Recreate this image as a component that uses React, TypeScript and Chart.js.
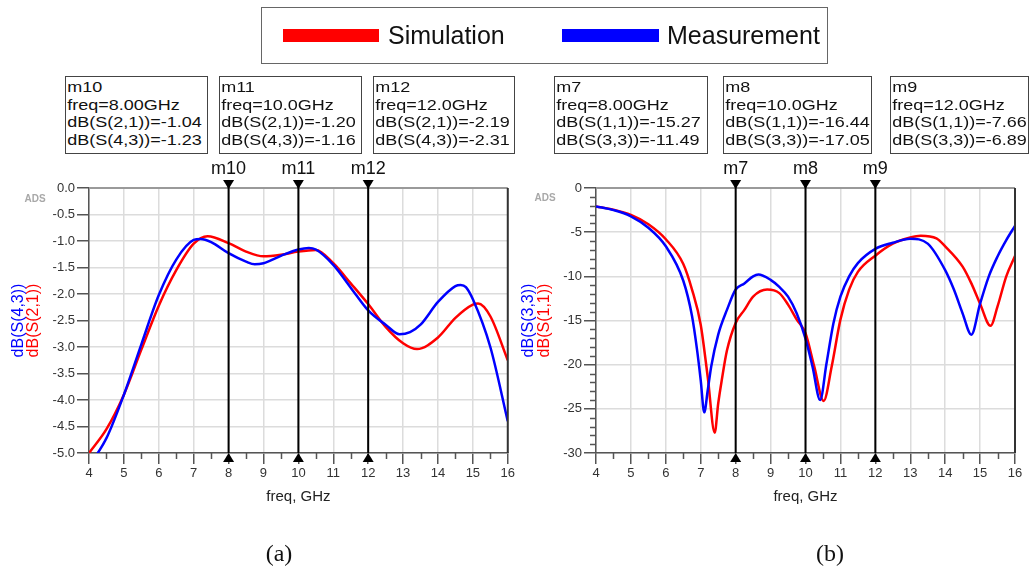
import React, { useEffect, useRef } from "react";
import { Chart, registerables } from "chart.js";

Chart.register(...registerables);

const FONT = '"Liberation Sans", Arial, Helvetica, sans-serif';
const SERIF = '"Liberation Serif", "Times New Roman", serif';

// ---------- (a) transmission ----------
const freqSimA = [4, 4.5, 5, 5.5, 6, 6.5, 7, 7.4, 8, 8.5, 9, 9.5, 10, 10.5, 11, 11.5, 12, 12.5, 13, 13.4, 14, 14.5, 15, 15.15, 15.5, 16];
const simS21 = [-5.0, -4.55, -3.9, -3.05, -2.22, -1.55, -1.05, -0.91, -1.04, -1.2, -1.29, -1.26, -1.2, -1.17, -1.42, -1.8, -2.19, -2.62, -2.93, -3.04, -2.82, -2.45, -2.2, -2.18, -2.42, -3.25];
const freqMeasA = [4, 4.5, 5, 5.5, 6, 6.5, 7, 7.2, 7.5, 8, 8.5, 8.75, 9, 9.5, 10, 10.3, 10.5, 11, 11.5, 12, 12.5, 12.9, 13.2, 13.5, 14, 14.5, 14.65, 14.8, 15, 15.5, 16];
const measS43 = [-5.25, -4.72, -3.9, -2.95, -2.02, -1.35, -0.98, -0.96, -1.02, -1.23, -1.39, -1.44, -1.42, -1.28, -1.16, -1.13, -1.16, -1.45, -1.88, -2.31, -2.58, -2.76, -2.72, -2.58, -2.15, -1.85, -1.83, -1.87, -2.1, -3.0, -4.4];

// ---------- (b) reflection ----------
const freqSimB = [4, 4.5, 5, 5.5, 6, 6.5, 6.75, 7, 7.2, 7.4, 7.5, 7.6, 7.75, 8, 8.25, 8.5, 8.9, 9.25, 9.5, 9.75, 10, 10.25, 10.52, 10.75, 11, 11.25, 11.5, 12, 12.5, 13, 13.3, 13.75, 14, 14.5, 14.75, 15, 15.3, 15.5, 15.75, 16];
const simS11 = [-2.08, -2.45, -3.05, -4.1, -5.8, -8.6, -11.5, -15.5, -21.4, -27.7, -24.4, -21.8, -18.4, -15.27, -13.8, -12.3, -11.5, -11.9, -13.2, -14.9, -16.44, -20.2, -24.1, -20.2, -14.9, -11.5, -9.5, -7.66, -6.3, -5.6, -5.4, -5.7, -6.6, -8.9, -10.8, -13.1, -15.6, -13.4, -10.0, -7.7];
const freqMeasB = [4, 4.5, 5, 5.5, 6, 6.5, 6.75, 6.9, 7.0, 7.1, 7.2, 7.3, 7.5, 7.75, 8, 8.25, 8.5, 8.65, 9, 9.25, 9.5, 9.75, 10, 10.2, 10.42, 10.6, 10.8, 11, 11.25, 11.5, 12, 12.5, 13, 13.5, 14, 14.25, 14.5, 14.75, 15, 15.25, 15.5, 15.75, 16];
const measS33 = [-2.08, -2.5, -3.2, -4.5, -6.6, -10.5, -14.5, -18.5, -21.8, -25.4, -22.9, -20.2, -16.6, -13.8, -11.49, -10.8, -10.0, -9.8, -10.4, -11.2, -12.3, -14.2, -17.05, -20.2, -24.0, -19.9, -15.3, -12.3, -10.0, -8.5, -6.89, -6.2, -5.75, -6.3, -9.3, -11.5, -14.2, -16.6, -13.1, -10.0, -7.75, -5.9, -4.28];

// ---------- axes / markers ----------
const xTicks = [4, 5, 6, 7, 8, 9, 10, 11, 12, 13, 14, 15, 16];
const xMinor = [4.5, 5.5, 6.5, 7.5, 8.5, 9.5, 10.5, 11.5, 12.5, 13.5, 14.5, 15.5];
const yTicksA = [-5, -4.5, -4, -3.5, -3, -2.5, -2, -1.5, -1, -0.5, 0];
const yTicksB = [-30, -25, -20, -15, -10, -5, 0];
const yMinorB = [-29, -28, -27, -26, -24, -23, -22, -21, -19, -18, -17, -16, -14, -13, -12, -11, -9, -8, -7, -6, -4, -3, -2, -1];
const markerFreqs = [8, 10, 12];
const markerNamesA = ["m10", "m11", "m12"];
const markerNamesB = ["m7", "m8", "m9"];
const boxTextA = [
  ["m10", "freq=8.00GHz", "dB(S(2,1))=-1.04", "dB(S(4,3))=-1.23"],
  ["m11", "freq=10.0GHz", "dB(S(2,1))=-1.20", "dB(S(4,3))=-1.16"],
  ["m12", "freq=12.0GHz", "dB(S(2,1))=-2.19", "dB(S(4,3))=-2.31"],
];
const boxTextB = [
  ["m7", "freq=8.00GHz", "dB(S(1,1))=-15.27", "dB(S(3,3))=-11.49"],
  ["m8", "freq=10.0GHz", "dB(S(1,1))=-16.44", "dB(S(3,3))=-17.05"],
  ["m9", "freq=12.0GHz", "dB(S(1,1))=-7.66", "dB(S(3,3))=-6.89"],
];
const legendLabels = ["Simulation", "Measurement"];
const RED = "#ff0000";
const BLUE = "#0000ff";

type Decor = {
  yMinor: number[];
  blueTitle: string;
  redTitle: string;
  blueX: number;
  redX: number;
  adsX: number;
  adsY: number;
  markers: string[];
};

function decorPlugin(d: Decor) {
  return {
    id: "adsDecor",
    afterDraw(chart: any) {
      const { ctx, chartArea: a, scales } = chart;
      const xs = scales.x;
      const ys = scales.y;
      ctx.save();
      // minor ticks
      ctx.strokeStyle = "#555";
      ctx.lineWidth = 1.5;
      ctx.beginPath();
      for (const v of xMinor) {
        const px = Math.round(xs.getPixelForValue(v)) + 0.5;
        ctx.moveTo(px, a.bottom);
        ctx.lineTo(px, a.bottom + 6);
      }
      for (const v of d.yMinor) {
        const py = Math.round(ys.getPixelForValue(v)) + 0.5;
        ctx.moveTo(a.left, py);
        ctx.lineTo(a.left - 6, py);
      }
      ctx.stroke();
      // top and right frame
      ctx.strokeStyle = "#9a9a9a";
      ctx.lineWidth = 2;
      ctx.beginPath();
      ctx.moveTo(a.left, a.top);
      ctx.lineTo(a.right, a.top);
      ctx.stroke();
      ctx.strokeStyle = "#333";
      ctx.beginPath();
      ctx.moveTo(a.right, a.top);
      ctx.lineTo(a.right, a.bottom);
      ctx.stroke();
      // markers
      for (let i = 0; i < markerFreqs.length; i++) {
        const px = xs.getPixelForValue(markerFreqs[i]);
        ctx.strokeStyle = "#000";
        ctx.lineWidth = 2;
        ctx.beginPath();
        ctx.moveTo(px, a.top - 8);
        ctx.lineTo(px, a.bottom);
        ctx.stroke();
        ctx.fillStyle = "#000";
        ctx.beginPath();
        ctx.moveTo(px - 5.5, a.top - 8);
        ctx.lineTo(px + 5.5, a.top - 8);
        ctx.lineTo(px, a.top + 1);
        ctx.closePath();
        ctx.fill();
        ctx.beginPath();
        ctx.moveTo(px - 5.5, a.bottom + 9);
        ctx.lineTo(px + 5.5, a.bottom + 9);
        ctx.lineTo(px, a.bottom);
        ctx.closePath();
        ctx.fill();
        ctx.fillStyle = "#111";
        ctx.font = `18px ${FONT}`;
        ctx.textAlign = "center";
        ctx.textBaseline = "middle";
        ctx.fillText(d.markers[i], px, a.top - 18.5);
      }
      // y titles
      const cy = (a.top + a.bottom) / 2;
      ctx.font = `16px ${FONT}`;
      ctx.textAlign = "center";
      ctx.textBaseline = "middle";
      ctx.save();
      ctx.translate(d.blueX, cy);
      ctx.rotate(-Math.PI / 2);
      ctx.fillStyle = BLUE;
      ctx.fillText(d.blueTitle, 0, 0);
      ctx.restore();
      ctx.save();
      ctx.translate(d.redX, cy);
      ctx.rotate(-Math.PI / 2);
      ctx.fillStyle = RED;
      ctx.fillText(d.redTitle, 0, 0);
      ctx.restore();
      // ADS tag
      ctx.font = `bold 10px ${FONT}`;
      ctx.fillStyle = "#a8a8a8";
      ctx.textAlign = "center";
      ctx.fillText("ADS", d.adsX, d.adsY);
      ctx.restore();
    },
  };
}

function pts(xs: number[], ys: number[]) {
  return xs.map((x, i) => ({ x, y: ys[i] }));
}

function makeConfig(
  sim: { x: number; y: number }[],
  meas: { x: number; y: number }[],
  yMin: number,
  yTicks: number[],
  yFmt: (v: number) => string,
  yWidth: number,
  padRight: number,
  decor: Decor
): any {
  const tickFont = { family: FONT, size: 13 };
  return {
    type: "line",
    data: {
      datasets: [
        {
          label: legendLabels[1],
          data: meas,
          borderColor: BLUE,
          borderWidth: 2.5,
          pointRadius: 0,
          cubicInterpolationMode: "monotone",
          fill: false,
        },
        {
          label: legendLabels[0],
          data: sim,
          borderColor: RED,
          borderWidth: 2.5,
          pointRadius: 0,
          cubicInterpolationMode: "monotone",
          fill: false,
        },
      ],
    },
    options: {
      responsive: false,
      animation: false,
      devicePixelRatio: 1,
      events: [],
      layout: { padding: { left: 0, right: padRight, top: 188, bottom: 63 } },
      plugins: { legend: { display: false }, tooltip: { enabled: false } },
      scales: {
        x: {
          type: "linear",
          min: 4,
          max: 16,
          afterBuildTicks: (s: any) => {
            s.ticks = xTicks.map((v) => ({ value: v }));
          },
          ticks: { color: "#333", font: tickFont, padding: 2, maxRotation: 0, autoSkip: false },
          grid: { color: "#dcdcdc", lineWidth: 1.5, tickLength: 11, tickColor: "#555", tickWidth: 1.5 },
          border: { color: "#555", width: 1.5 },
          title: {
            display: true,
            text: "freq, GHz",
            color: "#222",
            font: { family: FONT, size: 15 },
            padding: { top: 0, bottom: 7 },
          },
          afterFit: (s: any) => {
            s.height = 60;
          },
        },
        y: {
          type: "linear",
          min: yMin,
          max: 0,
          afterBuildTicks: (s: any) => {
            s.ticks = yTicks.map((v) => ({ value: v }));
          },
          ticks: {
            color: "#333",
            font: tickFont,
            padding: 2,
            autoSkip: false,
            callback: (v: any) => yFmt(Number(v)),
          },
          grid: { color: "#dcdcdc", lineWidth: 1.5, tickLength: 12, tickColor: "#555", tickWidth: 1.5 },
          border: { color: "#555", width: 1.5 },
          afterFit: (s: any) => {
            s.width = yWidth;
          },
        },
      },
    },
    plugins: [decorPlugin(decor)],
  };
}

function MarkerBox({ left, width, lines }: { left: number; width: number; lines: string[] }) {
  return (
    <div
      style={{
        position: "absolute",
        left,
        top: 76,
        width,
        height: 78,
        border: "1px solid #444",
        boxSizing: "border-box",
        background: "#fff",
        overflow: "hidden",
      }}
    >
      <div
        style={{
          transform: "scaleX(1.2)",
          transformOrigin: "0 0",
          fontFamily: FONT,
          fontSize: 15,
          lineHeight: "17.6px",
          paddingLeft: 1,
          paddingTop: 1,
          color: "#111",
          whiteSpace: "pre",
        }}
      >
        {lines.map((l, i) => (
          <div key={i}>{l}</div>
        ))}
      </div>
    </div>
  );
}

export default function App() {
  const refA = useRef<HTMLCanvasElement>(null);
  const refB = useRef<HTMLCanvasElement>(null);

  useEffect(() => {
    const a = new Chart(
      refA.current as HTMLCanvasElement,
      makeConfig(
        pts(freqSimA, simS21),
        pts(freqMeasA, measS43),
        -5,
        yTicksA,
        (v) => v.toFixed(1),
        89,
        9,
        {
          yMinor: [],
          blueTitle: "dB(S(4,3))",
          redTitle: "dB(S(2,1))",
          blueX: 18.5,
          redX: 34,
          adsX: 35,
          adsY: 199,
          markers: markerNamesA,
        }
      )
    );
    const b = new Chart(
      refB.current as HTMLCanvasElement,
      makeConfig(
        pts(freqSimB, simS11),
        pts(freqMeasB, measS33),
        -30,
        yTicksB,
        (v) => String(Math.round(v)),
        79,
        20,
        {
          yMinor: yMinorB,
          blueTitle: "dB(S(3,3))",
          redTitle: "dB(S(1,1))",
          blueX: 12,
          redX: 28,
          adsX: 28,
          adsY: 198,
          markers: markerNamesB,
        }
      )
    );
    return () => {
      a.destroy();
      b.destroy();
    };
  }, []);

  const boxLeftA = [65, 219, 373];
  const boxWidthA = [143, 143, 142];
  const boxLeftB = [554, 723, 890];
  const boxWidthB = [154, 149, 139];

  return (
    <div style={{ position: "absolute", left: 0, top: 0, width: 1035, height: 576, background: "#fff", overflow: "hidden" }}>
      <canvas ref={refA} width={517} height={576} style={{ position: "absolute", left: 0, top: 0, width: 517, height: 576 }} />
      <canvas ref={refB} width={518} height={576} style={{ position: "absolute", left: 517, top: 0, width: 518, height: 576 }} />

      {/* legend */}
      <div
        style={{
          position: "absolute",
          left: 261,
          top: 7,
          width: 567,
          height: 57,
          border: "1.5px solid #666",
          boxSizing: "border-box",
        }}
      />
      <div style={{ position: "absolute", left: 283, top: 29, width: 96, height: 13, background: RED }} />
      <div style={{ position: "absolute", left: 388, top: 20, fontFamily: FONT, fontSize: 25, lineHeight: "30px", color: "#111", whiteSpace: "pre" }}>
        {legendLabels[0]}
      </div>
      <div style={{ position: "absolute", left: 562, top: 29, width: 97, height: 13, background: BLUE }} />
      <div style={{ position: "absolute", left: 667, top: 20, fontFamily: FONT, fontSize: 25, lineHeight: "30px", color: "#111", whiteSpace: "pre" }}>
        {legendLabels[1]}
      </div>

      {boxTextA.map((lines, i) => (
        <MarkerBox key={"a" + i} left={boxLeftA[i]} width={boxWidthA[i]} lines={lines} />
      ))}
      {boxTextB.map((lines, i) => (
        <MarkerBox key={"b" + i} left={boxLeftB[i]} width={boxWidthB[i]} lines={lines} />
      ))}

      <div style={{ position: "absolute", left: 229, width: 100, top: 538, textAlign: "center", fontFamily: SERIF, fontSize: 24, lineHeight: "30px", color: "#111" }}>
        (a)
      </div>
      <div style={{ position: "absolute", left: 780, width: 100, top: 538, textAlign: "center", fontFamily: SERIF, fontSize: 24, lineHeight: "30px", color: "#111" }}>
        (b)
      </div>
    </div>
  );
}
